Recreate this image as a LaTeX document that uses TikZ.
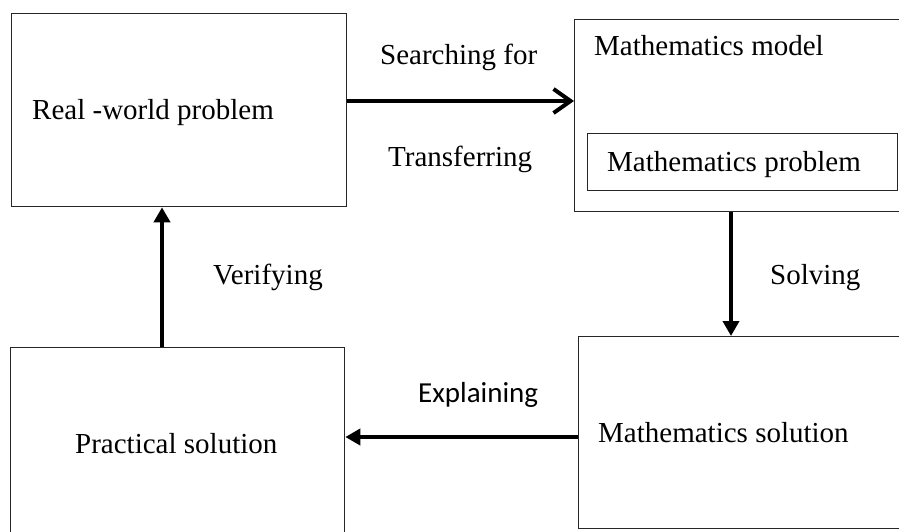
\documentclass[tikz,border=0pt]{standalone}
\usepackage{fontspec}
\setmainfont{Liberation Serif}
\newfontfamily\calib{Carlito}
\usetikzlibrary{arrows.meta}
\begin{document}
\begin{tikzpicture}[x=1pt,y=-1pt,
  box/.style={draw=black!85,line width=1.3pt,rectangle,inner sep=0pt,anchor=north west},
  txt/.style={anchor=base west,inner sep=0pt,font=\fontsize{29}{34}\selectfont},
  openarr/.style={line width=4pt,-{Straight Barb[length=17pt,width=24pt,line width=4pt]}},
  fillarr/.style={line width=4pt,-{Triangle[length=15pt,width=16pt]}}]
\useasboundingbox (0,0) rectangle (899,531);
\clip (0,0) rectangle (899,531);
% boxes
\node[box,minimum width=335pt,minimum height=193pt] (A) at (11,13) {};
\node[box,minimum width=346pt,minimum height=192pt] (B) at (574,19) {};
\node[box,minimum width=310pt,minimum height=57pt] (P) at (587,133) {};
\node[box,minimum width=342pt,minimum height=192pt] (D) at (578,336) {};
\node[box,minimum width=334pt,minimum height=220pt] (C) at (10,347) {};
% texts
\node[txt] (tA) at (32,119) {Real -world problem};
\node[txt] (tB) at (594,55) {Mathematics model};
\node[txt] (tP) at (607,171) {Mathematics problem};
\node[txt] (tD) at (598,442) {Mathematics solution};
\node[txt] (tC) at (75,453) {Practical solution};
\node[txt] (l1) at (380,64) {Searching for};
\node[txt] (l2) at (388,166) {Transferring};
\node[txt] (l3) at (213,284) {Verifying};
\node[txt] (l4) at (770,284) {Solving};
\node[txt,font=\calib\fontsize{29}{34}\selectfont] (l5) at (418,402) {Explaining};
% connectors
\draw[openarr] (A.east |- 0,101) -- (B.west |- 0,101);
\draw[fillarr] (B.south -| 731,0) -- (D.north -| 731,0);
\draw[fillarr] (D.west |- 0,437) -- (C.east |- 0,437);
\draw[fillarr] (C.north -| 162,0) -- (A.south -| 162,0);
\end{tikzpicture}
\end{document}
